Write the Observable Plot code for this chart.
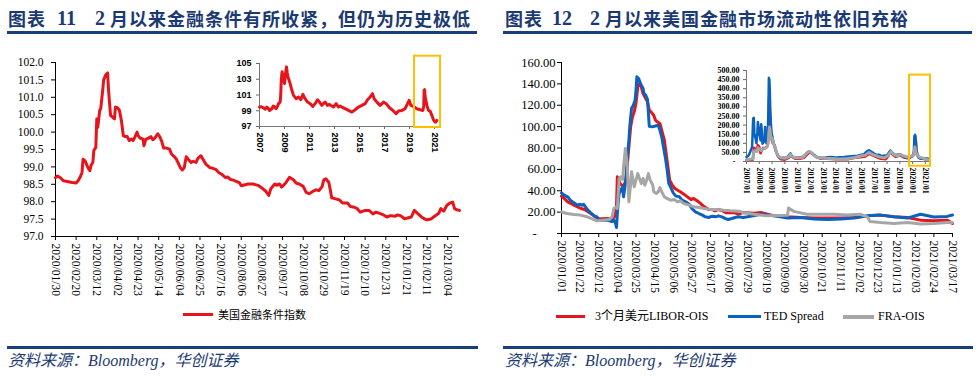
<!DOCTYPE html>
<html><head><meta charset="utf-8">
<script src="https://cdn.jsdelivr.net/npm/d3@7"></script>
<script src="https://cdn.jsdelivr.net/npm/@observablehq/plot@0.6"></script>
<style>
body{margin:0;background:#fff;}
#root{position:relative;width:979px;height:376px;overflow:hidden;background:#fff;}
#root > *{position:absolute;}
.t{font-family:"Noto Sans CJK SC",sans-serif;font-weight:700;font-size:18px;color:#1b3a72;white-space:nowrap;line-height:18px;letter-spacing:1px;}
.d{font-family:"Liberation Serif",serif;font-weight:700;font-size:20px;color:#1b3a72;line-height:18px;}
.rule{height:2.5px;background:#173f7d;}
.src{font-family:"Liberation Serif","Noto Sans CJK SC",serif;font-style:italic;font-size:16px;color:#1b3a72;white-space:nowrap;line-height:16px;}
.lg{font-size:12px;line-height:14px;white-space:nowrap;color:#000;}
.sw{height:3px;}
</style></head><body><div id="root"></div>
<script>
// ---------- data: left chart (US financial conditions index) ----------
const fciXTicks = ["2020/01/30","2020/02/20","2020/03/12","2020/04/02","2020/04/23","2020/05/14","2020/06/04","2020/06/25","2020/07/16","2020/08/06","2020/08/27","2020/09/17","2020/10/08","2020/10/29","2020/11/19","2020/12/10","2020/12/31","2021/01/21","2021/02/11","2021/03/04"];
const fciYTicks = [97,97.5,98,98.5,99,99.5,100,100.5,101,101.5,102];
const fciSeries = [
["2020-01-30",98.69],["2020-02-01",98.74],["2020-02-04",98.69],["2020-02-07",98.60],["2020-02-11",98.58],["2020-02-16",98.55],["2020-02-20",98.54],["2020-02-22",98.60],["2020-02-24",98.70],["2020-02-26",98.84],["2020-02-27",99.22],["2020-02-29",99.18],["2020-03-03",98.98],["2020-03-05",98.89],["2020-03-06",99.03],["2020-03-08",99.13],["2020-03-09",99.47],["2020-03-11",99.56],["2020-03-12",100.38],["2020-03-13",100.14],["2020-03-15",100.63],["2020-03-16",100.67],["2020-03-18",101.20],["2020-03-19",101.50],["2020-03-21",101.64],["2020-03-23",101.70],["2020-03-24",101.20],["2020-03-26",100.48],["2020-03-28",100.43],["2020-03-30",100.38],["2020-03-31",100.72],["2020-04-02",100.70],["2020-04-04",100.63],["2020-04-06",100.34],["2020-04-08",99.90],["2020-04-10",99.87],["2020-04-12",99.87],["2020-04-14",99.76],["2020-04-16",99.80],["2020-04-18",99.76],["2020-04-20",99.87],["2020-04-22",100.00],["2020-04-23",99.90],["2020-04-25",99.83],["2020-04-28",99.80],["2020-04-29",99.61],["2020-05-01",99.80],["2020-05-04",99.83],["2020-05-06",99.87],["2020-05-08",99.78],["2020-05-10",99.83],["2020-05-13",99.95],["2020-05-15",99.87],["2020-05-17",99.74],["2020-05-19",99.54],["2020-05-22",99.54],["2020-05-25",99.51],["2020-05-27",99.37],["2020-05-30",99.29],["2020-06-01",99.22],["2020-06-03",99.10],["2020-06-05",98.98],["2020-06-07",98.91],["2020-06-09",98.98],["2020-06-11",99.29],["2020-06-13",99.22],["2020-06-16",99.13],["2020-06-18",99.16],["2020-06-21",99.13],["2020-06-23",99.25],["2020-06-26",99.32],["2020-06-28",99.22],["2020-07-01",99.08],["2020-07-05",98.98],["2020-07-08",98.96],["2020-07-11",98.93],["2020-07-14",98.84],["2020-07-17",98.79],["2020-07-21",98.69],["2020-07-23",98.71],["2020-07-26",98.64],["2020-07-29",98.62],["2020-08-01",98.58],["2020-08-04",98.55],["2020-08-06",98.46],
["2020-08-13",98.51],["2020-08-18",98.51],["2020-08-23",98.47],["2020-08-28",98.37],["2020-08-31",98.30],["2020-09-03",98.18],["2020-09-05",98.37],["2020-09-09",98.51],["2020-09-11",98.47],["2020-09-14",98.51],["2020-09-16",98.42],["2020-09-20",98.53],["2020-09-24",98.70],["2020-09-28",98.63],["2020-10-01",98.53],["2020-10-04",98.51],["2020-10-08",98.44],["2020-10-11",98.27],["2020-10-14",98.23],["2020-10-18",98.30],["2020-10-21",98.34],["2020-10-24",98.32],["2020-10-27",98.42],["2020-10-29",98.63],["2020-10-31",98.66],["2020-11-03",98.56],["2020-11-05",98.27],["2020-11-06",98.11],["2020-11-10",98.08],["2020-11-14",98.05],["2020-11-17",97.96],["2020-11-22",97.96],["2020-11-25",97.86],["2020-11-29",97.84],["2020-12-02",97.80],["2020-12-05",97.70],["2020-12-10",97.75],["2020-12-14",97.75],["2020-12-18",97.65],["2020-12-21",97.70],["2020-12-24",97.67],["2020-12-28",97.63],["2021-01-01",97.56],["2021-01-05",97.60],["2021-01-09",97.58],["2021-01-12",97.62],["2021-01-15",97.60],["2021-01-19",97.51],["2021-01-22",97.53],["2021-01-26",97.56],["2021-01-29",97.75],["2021-02-01",97.67],["2021-02-05",97.57],["2021-02-08",97.51],["2021-02-11",97.48],["2021-02-15",97.50],["2021-02-18",97.57],["2021-02-23",97.67],["2021-02-25",97.80],["2021-02-28",97.73],["2021-03-03",97.89],["2021-03-06",97.96],["2021-03-09",97.99],["2021-03-11",97.80],["2021-03-13",97.77],["2021-03-16",97.75]];
// inset: long history (decimal years)
const fciInsetXTicks = [2007,2009,2011,2013,2015,2017,2019,2021];
const fciInsetYTicks = [97,99,101,103,105];
const fciLong = [[2007.0,99.47],[2007.15,99.5],[2007.32,99.38],[2007.45,99.2],[2007.59,99.47],[2007.7,99.3],[2007.8,99.04],[2007.99,99.26],[2008.1,99.6],[2008.17,99.55],[2008.33,99.26],[2008.45,99.6],[2008.52,99.9],[2008.65,100.1],[2008.7,101.0],[2008.73,102.45],[2008.78,103.6],[2008.81,103.94],[2008.86,103.5],[2008.92,103.3],[2009.0,102.45],[2009.08,103.72],[2009.16,104.57],[2009.22,103.8],[2009.27,103.3],[2009.37,102.87],[2009.45,102.45],[2009.59,101.6],[2009.72,100.96],[2009.85,100.7],[2009.93,100.53],[2010.12,100.74],[2010.31,100.4],[2010.47,101.09],[2010.55,100.8],[2010.65,100.53],[2010.84,100.1],[2011.05,99.9],[2011.27,99.55],[2011.45,99.9],[2011.64,100.4],[2011.8,100.1],[2011.99,99.68],[2012.1,99.9],[2012.25,100.1],[2012.44,99.68],[2012.6,99.8],[2012.71,99.68],[2012.92,99.47],[2013.13,99.9],[2013.32,99.47],[2013.45,99.6],[2013.59,99.47],[2013.85,99.26],[2014.12,99.04],[2014.39,98.83],[2014.65,99.13],[2014.92,99.47],[2015.19,99.68],[2015.45,99.9],[2015.64,100.4],[2015.85,100.74],[2016.04,101.17],[2016.17,100.53],[2016.39,100.1],[2016.65,99.68],[2016.8,99.9],[2016.92,100.1],[2017.13,99.9],[2017.4,99.38],[2017.67,99.04],[2017.93,98.62],[2018.12,98.96],[2018.39,99.04],[2018.65,99.26],[2018.84,99.9],[2018.97,100.32],[2019.11,99.68],[2019.32,99.55],[2019.59,99.26],[2019.85,99.13],[2020.07,99.04],[2020.14,99.6],[2020.17,101.6],[2020.21,101.68],[2020.25,100.8],[2020.31,100.32],[2020.39,99.68],[2020.52,99.04],[2020.65,98.96],[2020.79,98.4],[2020.92,97.85],[2021.05,97.55],[2021.12,97.6],[2021.19,97.77]];
const fciInsetBox = [{x1:2019.4, x2:2021.48, y1:96.87, y2:105.93}];

// ---------- data: right chart (USD liquidity spreads) ----------
const spreadNames = ["3个月美元LIBOR-OIS","TED Spread","FRA-OIS"];
const spreadXTicks = ["2020/01/01","2020/01/22","2020/02/12","2020/03/04","2020/03/25","2020/04/15","2020/05/06","2020/05/27","2020/06/17","2020/07/08","2020/07/29","2020/08/19","2020/09/09","2020/09/30","2020/10/21","2020/11/11","2020/12/02","2020/12/23","2021/01/13","2021/02/03","2021/02/24","2021/03/17"];
const spreadYTicks = [0,20,40,60,80,100,120,140,160];
const liborOis = [["2020-01-01",35],["2020-01-04",32.8],["2020-01-08",29.6],["2020-01-12",28],["2020-01-15",26.5],["2020-01-19",25],["2020-01-23",23.4],["2020-01-27",22.5],["2020-01-31",20.3],["2020-02-04",18.1],["2020-02-08",15.6],["2020-02-11",14],["2020-02-16",13.7],["2020-02-22",14],["2020-02-26",13.1],["2020-03-01",15.6],["2020-03-03",25],["2020-03-04",53],["2020-03-05",51.5],["2020-03-07",46.8],["2020-03-09",45.2],["2020-03-11",43.7],["2020-03-13",48.3],["2020-03-15",62.4],["2020-03-17",81],["2020-03-19",99.8],["2020-03-21",109],["2020-03-23",113.8],["2020-03-25",121.6],["2020-03-27",137],["2020-03-29",140.4],["2020-03-31",137.2],["2020-04-02",131],["2020-04-05",126.3],["2020-04-07",123.2],["2020-04-09",115.4],["2020-04-11",113.8],["2020-04-14",110.7],["2020-04-16",106],["2020-04-18",104.5],["2020-04-21",103],["2020-04-23",96.7],["2020-04-26",87.3],["2020-04-28",74.9],["2020-04-30",62.4],["2020-05-02",49.9],["2020-05-05",45.2],["2020-05-08",42.1],["2020-05-11",40.5],["2020-05-14",39],["2020-05-18",36.8],["2020-05-22",34.3],["2020-05-26",31.8],["2020-05-29",32.8],["2020-06-02",30.6],["2020-06-06",28],["2020-06-10",25],["2020-06-15",22.5],["2020-06-19",22.5],["2020-06-22",21.2],["2020-06-26",22.5],["2020-07-01",21.2],["2020-07-05",19.3],["2020-07-08",19.3],["2020-07-14",19.3],["2020-07-19",18.1],["2020-07-24",19.7],["2020-08-05",19],["2020-08-13",19.7],["2020-08-28",16.5],["2020-09-12",15.6],["2020-09-27",15],["2020-10-12",14.4],["2020-10-27",14.4],["2020-11-11",14.4],["2020-11-26",15],["2020-12-11",16.5],["2020-12-26",17.2],["2021-01-10",15.6],["2021-01-25",15],["2021-02-09",12.5],["2021-02-24",11.9],["2021-03-11",12.5],["2021-03-17",9.4]];
const tedSpread = [["2020-01-01",38],["2020-01-04",35.9],["2020-01-08",34.3],["2020-01-11",31.2],["2020-01-15",28.7],["2020-01-19",26.5],["2020-01-22",27.4],["2020-01-24",26.5],["2020-01-26",27.4],["2020-01-30",22.5],["2020-02-03",19.3],["2020-02-07",16.5],["2020-02-10",15.6],["2020-02-12",12.5],["2020-02-16",12.5],["2020-02-20",12.5],["2020-02-24",11.9],["2020-02-27",11.2],["2020-02-29",12.5],["2020-03-02",9.4],["2020-03-03",5.6],["2020-03-04",18.7],["2020-03-05",29.6],["2020-03-06",37.4],["2020-03-08",40.5],["2020-03-10",43.7],["2020-03-11",34.3],["2020-03-12",40.5],["2020-03-14",53],["2020-03-15",68.6],["2020-03-17",87.3],["2020-03-18",99.8],["2020-03-20",117],["2020-03-22",120],["2020-03-24",124.8],["2020-03-25",134],["2020-03-26",146.6],["2020-03-28",145],["2020-03-30",140.4],["2020-04-02",135.7],["2020-04-03",131],["2020-04-05",129.4],["2020-04-07",125.4],["2020-04-09",100.4],["2020-04-12",99.8],["2020-04-15",100.4],["2020-04-19",101.4],["2020-04-21",96.7],["2020-04-23",90.5],["2020-04-25",81],["2020-04-27",71.7],["2020-04-29",60.8],["2020-05-01",46.8],["2020-05-03",43.7],["2020-05-06",38],["2020-05-09",35],["2020-05-13",34.3],["2020-05-16",31.2],["2020-05-20",29.6],["2020-05-24",27.4],["2020-05-27",23.4],["2020-05-31",20.3],["2020-06-04",18.7],["2020-06-08",17.2],["2020-06-11",15.6],["2020-06-15",15],["2020-06-19",16.2],["2020-06-23",15.6],["2020-06-26",16.5],["2020-06-30",15.6],["2020-07-04",14],["2020-07-07",13.1],["2020-07-11",14],["2020-07-15",15],["2020-07-18",15.6],["2020-07-24",15],["2020-07-29",15.6],["2020-08-13",18],["2020-08-28",16.5],["2020-09-12",14.5],["2020-09-27",15],["2020-10-12",13.6],["2020-10-27",13],["2020-11-11",13.6],["2020-11-26",14.4],["2020-12-11",16.5],["2020-12-26",17.2],["2021-01-10",15.6],["2021-01-25",14.4],["2021-02-09",18],["2021-02-24",15.5],["2021-03-11",16],["2021-03-17",17.3]];
const fraOis = [["2020-01-01",20.3],["2020-01-07",18.7],["2020-01-15",17.8],["2020-01-22",17.2],["2020-01-30",15.6],["2020-02-04",14],["2020-02-10",11.9],["2020-02-16",12.5],["2020-02-24",13.1],["2020-02-27",15.6],["2020-02-29",23.4],["2020-03-03",25],["2020-03-04",23.4],["2020-03-06",51.5],["2020-03-08",53],["2020-03-10",50.5],["2020-03-11",62.4],["2020-03-13",79.5],["2020-03-15",65.5],["2020-03-16",46.8],["2020-03-17",29.6],["2020-03-19",46.8],["2020-03-20",57.7],["2020-03-22",48.3],["2020-03-23",43.7],["2020-03-25",49.9],["2020-03-27",56.1],["2020-03-29",51.5],["2020-03-31",46.8],["2020-04-02",51.5],["2020-04-04",45.2],["2020-04-06",49.9],["2020-04-08",56.1],["2020-04-10",49.9],["2020-04-13",45.2],["2020-04-14",39],["2020-04-17",37.4],["2020-04-19",39],["2020-04-21",43],["2020-04-23",39],["2020-04-26",34.3],["2020-04-29",32.8],["2020-05-03",31.2],["2020-05-07",31.8],["2020-05-11",29.6],["2020-05-14",30.6],["2020-05-18",28],["2020-05-24",26.5],["2020-05-29",25],["2020-06-04",24.3],["2020-06-10",23.4],["2020-06-17",22.5],["2020-06-25",22.5],["2020-07-02",21.8],["2020-07-10",21.2],["2020-07-19",20.9],["2020-07-24",19.7],["2020-08-05",18],["2020-08-20",16.5],["2020-09-12",17],["2020-09-13",23.8],["2020-09-19",20.7],["2020-10-04",18],["2020-10-19",18],["2020-11-03",18],["2020-11-18",17.2],["2020-12-03",18],["2020-12-11",15.6],["2020-12-14",11.3],["2020-12-26",10.3],["2021-01-10",9.4],["2021-01-25",10.3],["2021-02-09",8.8],["2021-02-24",9.4],["2021-03-11",10.3],["2021-03-17",10.3]];
// inset: long history (decimal years)
const spreadInsetXTicks = [2007,2008,2009,2010,2011,2012,2013,2014,2015,2016,2017,2018,2019,2020,2021];
const spreadInsetYTicks = [0,50,100,150,200,250,300,350,400,450,500];
const tedLong = [[2007.0,25],[2007.18,34],[2007.3,55],[2007.44,80],[2007.52,235],[2007.57,240],[2007.62,150],[2007.7,130],[2007.78,100],[2007.85,160],[2007.89,217],[2007.94,190],[2007.99,150],[2008.05,140],[2008.1,116],[2008.15,205],[2008.2,170],[2008.25,98],[2008.35,107],[2008.42,130],[2008.46,190],[2008.5,150],[2008.56,100],[2008.62,110],[2008.67,162],[2008.72,300],[2008.75,460],[2008.79,450],[2008.82,400],[2008.86,281],[2008.9,217],[2008.96,160],[2009.03,134],[2009.14,98],[2009.27,61],[2009.45,30],[2009.66,18],[2009.9,20],[2010.18,22],[2010.35,38],[2010.44,45],[2010.55,30],[2010.7,21],[2011.0,22],[2011.3,25],[2011.5,28],[2011.7,45],[2011.87,55],[2012.0,52],[2012.13,43],[2012.3,35],[2012.5,22],[2012.8,20],[2013.2,22],[2013.57,25],[2014.0,22],[2014.61,25],[2015.0,28],[2015.39,30],[2015.7,32],[2015.92,36],[2016.2,40],[2016.4,55],[2016.57,62],[2016.75,55],[2016.96,45],[2017.2,35],[2017.35,38],[2017.6,30],[2018.0,35],[2018.15,50],[2018.26,60],[2018.4,50],[2018.65,35],[2018.85,38],[2019.04,40],[2019.2,30],[2019.43,22],[2019.6,20],[2019.83,25],[2020.03,30],[2020.1,55],[2020.14,140],[2020.2,146],[2020.26,110],[2020.3,60],[2020.35,40],[2020.45,22],[2020.6,15],[2020.8,15],[2021.0,16],[2021.2,17]];
const liborLong = [[2007.0,8],[2007.5,10],[2007.55,50],[2007.6,75],[2007.7,60],[2007.8,70],[2007.9,90],[2007.95,85],[2008.0,80],[2008.1,45],[2008.2,60],[2008.3,75],[2008.4,70],[2008.5,75],[2008.6,80],[2008.7,120],[2008.75,340],[2008.78,360],[2008.82,300],[2008.88,200],[2008.95,130],[2009.05,100],[2009.2,90],[2009.35,50],[2009.5,25],[2009.7,12],[2010.0,10],[2010.3,20],[2010.45,33],[2010.6,25],[2010.8,15],[2011.2,15],[2011.5,20],[2011.7,35],[2011.95,50],[2012.1,45],[2012.3,35],[2012.5,25],[2012.8,15],[2013.3,15],[2014.0,13],[2014.6,12],[2015.0,13],[2015.5,20],[2015.9,23],[2016.3,28],[2016.6,42],[2016.8,35],[2017.0,30],[2017.5,15],[2017.9,12],[2018.1,30],[2018.25,58],[2018.4,40],[2018.7,25],[2019.0,35],[2019.3,22],[2019.6,18],[2019.9,25],[2020.1,40],[2020.2,138],[2020.25,115],[2020.3,60],[2020.4,35],[2020.55,20],[2020.8,15],[2021.0,12],[2021.2,10]];
const fraLong = [[2007.0,10],[2007.5,15],[2007.55,45],[2007.65,60],[2007.8,55],[2007.9,75],[2008.0,70],[2008.15,60],[2008.3,70],[2008.45,75],[2008.6,80],[2008.7,100],[2008.75,160],[2008.8,190],[2008.85,170],[2008.92,120],[2009.0,130],[2009.1,100],[2009.2,85],[2009.35,50],[2009.5,30],[2009.7,20],[2010.0,18],[2010.3,25],[2010.42,40],[2010.55,30],[2010.8,20],[2011.2,20],[2011.45,25],[2011.7,45],[2011.87,55],[2012.0,52],[2012.15,45],[2012.35,30],[2012.6,20],[2013.0,18],[2013.5,17],[2014.0,15],[2014.5,14],[2015.0,16],[2015.5,22],[2015.95,30],[2016.3,35],[2016.6,50],[2016.8,40],[2017.0,35],[2017.4,25],[2017.8,20],[2018.1,35],[2018.3,55],[2018.5,40],[2018.8,30],[2019.0,40],[2019.3,30],[2019.6,25],[2019.9,30],[2020.1,35],[2020.18,80],[2020.25,50],[2020.4,30],[2020.6,22],[2020.8,20],[2021.0,12],[2021.2,10]];
const spreadInsetBox = [{x1:2019.76, x2:2021.4, y1:-26, y2:475}];

// ---------- styling ----------
const RED = "#e8141c", BLUE = "#0a62c0", GREY = "#a6a6a6", GOLD = "#ffc000";
const parse = s => new Date(s.replace(/\//g, "-") + "T00:00:00Z");
const fmtDate = d3.utcFormat("%Y/%m/%d");
const serif = "'Liberation Serif', 'Times New Roman', serif";
const root = document.getElementById("root");
function place(el, left, top) { el.style.position = "absolute"; el.style.left = left + "px"; el.style.top = top + "px"; root.appendChild(el); return el; }
function html(tag, cls, text, left, top, extra) { const e = document.createElement(tag); if (cls) e.className = cls; e.textContent = text; if (extra) Object.assign(e.style, extra); return place(e, left, top); }

// titles, rules, sources
html("div","t","图表",8,9); html("div","d","11",57,9); html("div","d","2",95,9); html("div","t","月以来金融条件有所收紧，但仍为历史极低",110,9);
html("div","t","图表",505,9); html("div","d","12",552,9); html("div","d","2",590,9); html("div","t","月以来美国金融市场流动性依旧充裕",605,9);
html("div","rule","",7,31,{width:"470px"}); html("div","rule","",503,31,{width:"469px"});
html("div","rule","",7,346,{width:"471px"}); html("div","rule","",503,346,{width:"470px"});
html("div","src","资料来源：Bloomberg，华创证券",8,353); html("div","src","资料来源：Bloomberg，华创证券",505,353);

// left main
const leftMain = Plot.plot({
  width: 480, height: 255, marginLeft: 55, marginRight: 21, marginTop: 12, marginBottom: 69,
  style: {fontFamily: serif, fontSize: "11.5px", color: "#000", background: "none", overflow: "visible"},
  x: {type: "utc", domain: [parse("2020/01/30"), parse("2021/03/16")]},
  y: {domain: [97, 102]},
  marks: [
    Plot.axisY({ticks: fciYTicks, tickFormat: d => d.toFixed(1), tickSize: 4, tickPadding: 8, label: null}),
    Plot.axisX({ticks: fciXTicks.map(parse), tickFormat: fmtDate, tickRotate: 90, tickSize: 4, tickPadding: 3, label: null}),
    Plot.ruleY([97], {stroke: "#000"}),
    Plot.ruleX([parse("2020/01/30")], {stroke: "#000"}),
    Plot.line(fciSeries, {x: d => parse(d[0]), y: d => d[1], stroke: RED, strokeWidth: 3})
  ]
});
place(leftMain, 0, 50);

// left inset
const leftInset = Plot.plot({
  width: 225, height: 105, marginLeft: 39, marginRight: 5, marginTop: 13, marginBottom: 29,
  style: {fontFamily: "'Liberation Sans', Arial, sans-serif", fontSize: "9px", fontWeight: "bold", color: "#000", background: "none", overflow: "visible"},
  x: {domain: [2007, 2021.48]},
  y: {domain: [97, 105]},
  marks: [
    Plot.axisY({ticks: fciInsetYTicks, tickFormat: d => String(d), tickSize: 3, tickPadding: 5, label: null, stroke: "#666"}),
    Plot.axisX({ticks: fciInsetXTicks, tickFormat: d => String(d), tickRotate: 90, tickSize: 3, tickPadding: 3, label: null, stroke: "#666"}),
    Plot.ruleY([97], {stroke: "#777"}),
    Plot.ruleX([2007], {stroke: "#777"}),
    Plot.line(fciLong, {x: d => d[0], y: d => d[1], stroke: RED, strokeWidth: 3}),
    Plot.rect(fciInsetBox, {x1: "x1", x2: "x2", y1: "y1", y2: "y2", fill: "none", stroke: GOLD, strokeWidth: 2})
  ]
});
place(leftInset, 220, 50);

// right main
const rightMain = Plot.plot({
  width: 480, height: 250, marginLeft: 71, marginRight: 18, marginTop: 12, marginBottom: 67,
  style: {fontFamily: serif, fontSize: "11.5px", color: "#000", background: "none", overflow: "visible"},
  x: {type: "utc", domain: [parse("2020/01/01"), parse("2021/03/17")]},
  y: {domain: [0, 160]},
  marks: [
    Plot.axisY({ticks: spreadYTicks, tickFormat: d => d === 0 ? "-\u2007\u2007\u2007" : d.toFixed(2), tickSize: 4, tickPadding: 2, label: null, fontSize: 12.5}),
    Plot.axisX({ticks: spreadXTicks.map(parse), tickFormat: fmtDate, tickRotate: 90, tickSize: 4, tickPadding: 3, label: null}),
    Plot.ruleY([0], {stroke: "#000"}),
    Plot.ruleX([parse("2020/01/01")], {stroke: "#000"}),
    Plot.line(liborOis, {x: d => parse(d[0]), y: d => d[1], stroke: RED, strokeWidth: 3}),
    Plot.line(tedSpread, {x: d => parse(d[0]), y: d => d[1], stroke: BLUE, strokeWidth: 3}),
    Plot.line(fraOis, {x: d => parse(d[0]), y: d => d[1], stroke: GREY, strokeWidth: 3})
  ]
});
place(rightMain, 490, 50);

// right inset
const rightInset = Plot.plot({
  width: 235, height: 140, marginLeft: 46, marginRight: 5, marginTop: 15, marginBottom: 34,
  style: {fontFamily: serif, fontSize: "8px", fontWeight: "bold", color: "#000", background: "none", overflow: "visible"},
  x: {domain: [2007, 2021.4]},
  y: {domain: [0, 500]},
  marks: [
    Plot.axisY({ticks: spreadInsetYTicks, tickFormat: d => d === 0 ? "-\u2007" : d.toFixed(2), tickSize: 3, tickPadding: 4, label: null, stroke: "#666"}),
    Plot.axisX({ticks: spreadInsetXTicks, tickFormat: d => d + "/01", tickRotate: 90, tickSize: 3, tickPadding: 3, label: null, stroke: "#666"}),
    Plot.ruleY([0], {stroke: "#777"}),
    Plot.ruleX([2007], {stroke: "#777"}),
    Plot.line(liborLong, {x: d => d[0], y: d => d[1], stroke: RED, strokeWidth: 2.5}),
    Plot.line(tedLong, {x: d => d[0], y: d => d[1], stroke: BLUE, strokeWidth: 2.5}),
    Plot.line(fraLong, {x: d => d[0], y: d => d[1], stroke: GREY, strokeWidth: 3}),
    Plot.rect(spreadInsetBox, {x1: "x1", x2: "x2", y1: "y1", y2: "y2", fill: "none", stroke: GOLD, strokeWidth: 2})
  ]
});
place(rightInset, 700, 55);

// legends
html("div","sw","",183,313,{width:"30px",background:RED});
html("div","lg","美国金融条件指数",218,307,{fontFamily:"'Noto Sans CJK SC', sans-serif",fontSize:"11px"});
const swX = [556, 728, 843], swW = [29, 33, 31], txX = [595, 764, 878], cols = [RED, BLUE, GREY];
spreadNames.forEach((n, i) => {
  html("div","sw","",swX[i],314.5,{width:swW[i]+"px",background:cols[i],height:(i===2?"4px":"3px")});
  html("div","lg",n,txX[i],309,{fontFamily:"'Liberation Serif','Noto Sans CJK SC',serif"});
});
</script></body></html>
